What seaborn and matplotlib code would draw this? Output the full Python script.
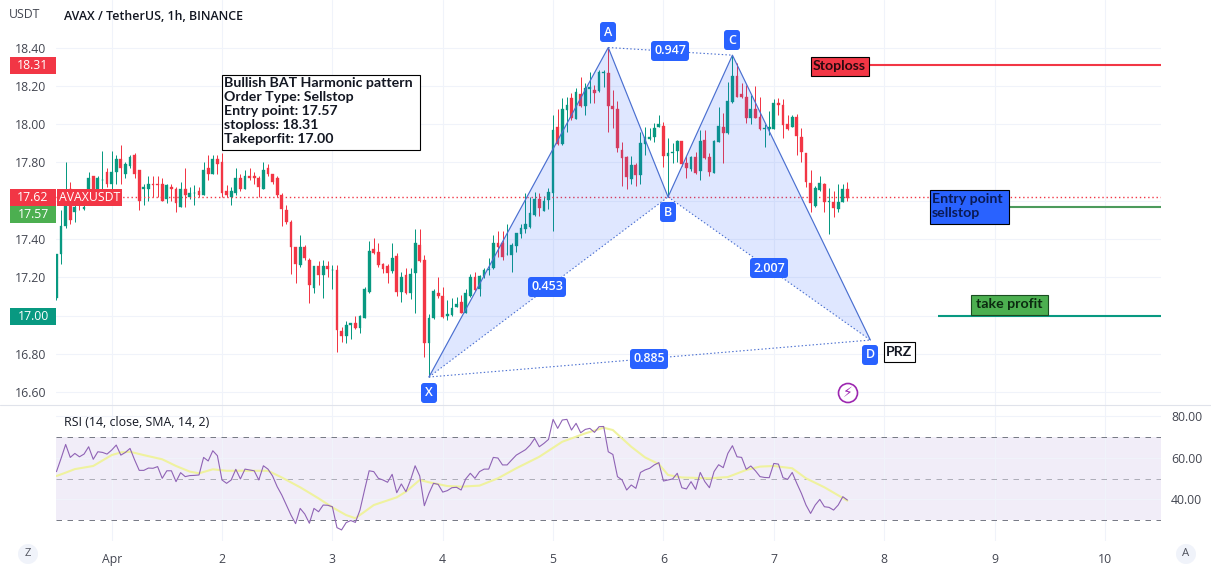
"""AVAX / TetherUS 1h chart with bullish BAT pattern and RSI pane."""

import matplotlib
matplotlib.use("Agg")
import matplotlib.pyplot as plt
import numpy as np
import pandas as pd
import seaborn as sns
from matplotlib.patches import Circle, FancyBboxPatch, Rectangle
from matplotlib.transforms import Affine2D

# ---------------------------
# Data
# ---------------------------

candle_open = [
    17.09, 17.32, 17.47, 17.66, 17.54, 17.60, 17.557, 17.65, 17.73, 17.66,
    17.71, 17.75, 17.69, 17.75, 17.82, 17.74, 17.78, 17.84, 17.76, 17.66,
    17.66, 17.69, 17.69, 17.69, 17.61, 17.67, 17.66, 17.57, 17.66, 17.62,
    17.64, 17.65, 17.63, 17.77, 17.74, 17.82, 17.80, 17.65, 17.62, 17.64,
    17.72, 17.66, 17.73, 17.73, 17.72, 17.66, 17.77, 17.74, 17.72, 17.63,
    17.55, 17.49, 17.36, 17.265, 17.357, 17.29, 17.147, 17.26, 17.213, 17.26,
    17.24, 17.239, 16.92, 16.896, 16.95, 16.964, 16.936, 16.987, 17.124, 17.348,
    17.331, 17.27, 17.262, 17.234, 17.312, 17.126, 17.213, 17.117, 17.225, 17.369,
    17.291, 16.86, 16.987, 17.121, 17.105, 17.0, 17.004, 17.048, 17.07, 17.016,
    17.103, 17.202, 17.138, 17.207, 17.239, 17.248, 17.378, 17.378, 17.32, 17.317,
    17.364, 17.427, 17.453, 17.462, 17.526, 17.61, 17.548, 17.604, 17.643, 17.983,
    17.896, 18.074, 18.135, 18.027, 18.157, 18.095, 18.185, 18.178, 18.173, 18.265,
    18.265, 18.097, 18.077, 17.865, 17.829, 17.712, 17.787, 17.735, 17.897, 17.921,
    17.931, 17.983, 17.99, 17.836, 17.848, 17.858, 17.912, 17.796, 17.766, 17.83,
    17.757, 17.917, 17.83, 17.747, 17.909, 17.983, 17.952, 18.116, 18.251, 18.157,
    18.14, 18.03, 18.079, 18.039, 17.975, 17.976, 17.975, 18.112, 18.1, 17.999,
    17.987, 18.036, 17.935, 17.848, 17.695, 17.573, 17.657, 17.688, 17.596, 17.596,
    17.557, 17.596, 17.662,
]
candle_high = [
    17.32, 17.55, 17.80, 17.70, 17.62, 17.62, 17.60, 17.75, 17.73, 17.73,
    17.86, 17.77, 17.86, 17.84, 17.89, 17.80, 17.84, 17.85, 17.76, 17.69,
    17.73, 17.73, 17.73, 17.72, 17.69, 17.69, 17.67, 17.70, 17.77, 17.67,
    17.68, 17.67, 17.80, 17.84, 17.84, 17.84, 17.85, 17.68, 17.67, 17.77,
    17.74, 17.76, 17.77, 17.75, 17.73, 17.80, 17.79, 17.74, 17.73, 17.64,
    17.58, 17.50, 17.36, 17.421, 17.37, 17.30, 17.26, 17.286, 17.29, 17.286,
    17.265, 17.265, 16.94, 16.97, 16.964, 17.0, 17.004, 17.152, 17.39, 17.404,
    17.378, 17.277, 17.27, 17.382, 17.33, 17.228, 17.248, 17.248, 17.451, 17.453,
    17.317, 17.009, 17.138, 17.2, 17.152, 17.082, 17.095, 17.1, 17.109, 17.138,
    17.218, 17.227, 17.213, 17.248, 17.3, 17.421, 17.442, 17.442, 17.479, 17.378,
    17.43, 17.479, 17.639, 17.622, 17.648, 17.639, 17.625, 17.668, 18.048, 18.077,
    18.135, 18.143, 18.161, 18.187, 18.248, 18.213, 18.274, 18.204, 18.283, 18.283,
    18.396, 18.178, 18.121, 17.909, 17.834, 17.834, 17.796, 17.961, 17.987, 17.978,
    18.004, 18.046, 18.013, 17.926, 17.9, 17.917, 17.914, 17.834, 17.834, 17.856,
    17.97, 17.97, 17.848, 17.917, 18.088, 18.057, 18.222, 18.361, 18.317, 18.213,
    18.204, 18.152, 18.2, 18.143, 18.0, 18.07, 18.131, 18.138, 18.131, 18.048,
    18.048, 18.053, 17.978, 17.851, 17.761, 17.679, 17.73, 17.691, 17.669, 17.651,
    17.686, 17.686, 17.696,
]
candle_low = [
    17.08, 17.27, 17.46, 17.48, 17.49, 17.55, 17.553, 17.64, 17.63, 17.63,
    17.65, 17.67, 17.65, 17.69, 17.69, 17.72, 17.77, 17.72, 17.55, 17.58,
    17.60, 17.62, 17.62, 17.60, 17.59, 17.60, 17.54, 17.57, 17.57, 17.61,
    17.58, 17.62, 17.63, 17.71, 17.74, 17.74, 17.62, 17.62, 17.58, 17.63,
    17.65, 17.66, 17.71, 17.69, 17.62, 17.66, 17.73, 17.69, 17.62, 17.47,
    17.48, 17.22, 17.17, 17.253, 17.29, 17.065, 17.117, 17.16, 17.095, 17.204,
    17.14, 16.813, 16.865, 16.856, 16.88, 16.93, 16.912, 16.987, 17.117, 17.322,
    17.253, 17.222, 17.173, 17.222, 17.105, 17.074, 17.114, 17.086, 17.013, 17.282,
    16.783, 16.682, 16.982, 17.091, 16.987, 16.978, 17.0, 17.044, 17.013, 17.013,
    17.1, 17.128, 17.105, 17.195, 17.213, 17.244, 17.308, 17.291, 17.317, 17.23,
    17.335, 17.404, 17.434, 17.46, 17.522, 17.522, 17.547, 17.555, 17.444, 17.891,
    17.891, 17.961, 18.022, 18.027, 18.091, 18.048, 18.109, 18.109, 18.17, 18.196,
    17.961, 17.978, 17.856, 17.677, 17.66, 17.688, 17.679, 17.688, 17.839, 17.917,
    17.909, 17.983, 17.778, 17.622, 17.796, 17.804, 17.783, 17.717, 17.757, 17.74,
    17.709, 17.818, 17.731, 17.743, 17.907, 17.799, 17.949, 18.112, 18.14, 18.135,
    18.004, 18.0, 18.03, 17.97, 17.883, 17.943, 17.973, 18.048, 17.93, 17.97,
    17.983, 17.839, 17.804, 17.674, 17.544, 17.57, 17.653, 17.544, 17.427, 17.517,
    17.543, 17.592, 17.599,
]
candle_close = [
    17.32, 17.47, 17.64, 17.50, 17.57, 17.58, 17.57, 17.72, 17.65, 17.72,
    17.71, 17.69, 17.75, 17.82, 17.77, 17.79, 17.83, 17.74, 17.60, 17.67,
    17.69, 17.68, 17.68, 17.60, 17.68, 17.66, 17.59, 17.66, 17.63, 17.64,
    17.64, 17.63, 17.76, 17.74, 17.82, 17.79, 17.64, 17.63, 17.65, 17.72,
    17.66, 17.73, 17.72, 17.72, 17.67, 17.76, 17.74, 17.70, 17.63, 17.555,
    17.49, 17.36, 17.27, 17.357, 17.30, 17.16, 17.26, 17.21, 17.26, 17.244,
    17.24, 16.926, 16.896, 16.952, 16.96, 16.936, 17.0, 17.141, 17.338, 17.326,
    17.265, 17.244, 17.225, 17.303, 17.126, 17.204, 17.117, 17.218, 17.378, 17.286,
    16.86, 16.987, 17.131, 17.105, 16.992, 17.01, 17.041, 17.06, 17.016, 17.117,
    17.202, 17.135, 17.209, 17.239, 17.244, 17.378, 17.361, 17.308, 17.32, 17.368,
    17.43, 17.456, 17.479, 17.535, 17.61, 17.561, 17.6, 17.648, 17.97, 17.896,
    18.079, 18.1, 18.03, 18.17, 18.095, 18.187, 18.196, 18.161, 18.27, 18.27,
    18.095, 18.077, 17.874, 17.822, 17.723, 17.787, 17.735, 17.903, 17.931, 17.935,
    17.982, 17.999, 17.834, 17.848, 17.856, 17.914, 17.792, 17.77, 17.827, 17.743,
    17.912, 17.822, 17.752, 17.912, 17.99, 17.952, 18.121, 18.251, 18.143, 18.14,
    18.03, 18.077, 18.034, 17.973, 17.978, 17.987, 18.109, 18.098, 17.996, 17.975,
    18.036, 17.938, 17.856, 17.697, 17.587, 17.669, 17.695, 17.596, 17.6, 17.564,
    17.596, 17.662, 17.613,
]

rsi_values = [
    53.3, 59.6, 66.3, 60.1, 62.0, 60.4, 61.7, 65.2, 59.2, 62.8,
    62.5, 61.7, 63.6, 66.0, 61.2, 62.5, 64.4, 58.9, 53.9, 53.9,
    55.0, 54.9, 55.7, 50.1, 53.7, 53.7, 48.5, 52.8, 50.9, 51.4,
    51.5, 51.7, 60.1, 58.4, 63.3, 60.9, 49.3, 47.7, 49.3, 54.4,
    49.8, 54.5, 54.1, 53.7, 49.3, 56.1, 54.5, 51.2, 46.1, 42.1,
    37.3, 32.5, 28.4, 35.7, 33.0, 28.6, 35.7, 34.1, 37.3, 37.2,
    36.5, 26.5, 25.4, 28.9, 29.9, 29.0, 34.9, 44.5, 53.7, 53.3,
    50.1, 49.3, 48.2, 52.0, 43.2, 47.4, 43.7, 49.3, 56.1, 51.2,
    37.0, 42.9, 47.7, 47.2, 43.5, 44.2, 45.6, 45.8, 44.5, 49.8,
    52.5, 50.1, 53.3, 54.5, 54.5, 60.1, 59.8, 56.5, 56.5, 58.9,
    61.2, 62.5, 63.8, 66.0, 69.2, 65.2, 66.8, 68.7, 78.3, 74.0,
    78.0, 78.3, 73.2, 76.4, 71.9, 73.5, 74.0, 72.1, 74.8, 74.9,
    62.8, 61.5, 50.9, 49.3, 44.5, 46.9, 45.3, 52.9, 54.1, 54.9,
    56.5, 57.6, 48.8, 49.3, 49.8, 52.5, 45.6, 45.0, 48.5, 44.8,
    52.9, 48.5, 45.6, 53.3, 56.6, 55.2, 62.0, 65.7, 60.4, 60.1,
    54.4, 56.0, 53.7, 50.9, 50.5, 50.4, 57.2, 56.9, 50.4, 49.6,
    52.9, 47.7, 42.9, 37.3, 33.3, 37.3, 40.0, 36.5, 36.2, 34.9,
    37.3, 41.3, 39.7,
]

# RSI moving average, read at the bends of the line (bar number, value)
sma_bars = [
    0, 2, 4, 8, 12, 14, 16, 19, 23, 26, 29, 31, 34, 37, 42, 46, 49, 53, 57, 60,
    63, 65, 67, 69, 74, 76, 79, 81, 85, 88, 92, 96, 100, 105, 110, 115, 119, 121,
    123, 125, 128, 131, 133, 136, 142, 146, 150, 153, 156, 160, 163, 167, 172,
]
sma_values = [
    51.2, 52.8, 54.5, 56.0, 61.2, 62.5, 62.8, 61.2, 59.2, 56.0, 53.3, 52.5, 54.4,
    53.7, 53.7, 53.7, 50.5, 45.8, 40.5, 36.2, 32.5, 31.0, 34.1, 37.3, 41.0, 43.7,
    49.3, 48.2, 46.4, 46.1, 46.6, 50.1, 54.9, 60.4, 67.6, 71.6, 74.3, 73.2, 69.2,
    65.2, 60.1, 56.9, 51.7, 50.5, 50.1, 50.7, 54.1, 55.7, 56.0, 54.9, 50.1, 45.8,
    39.4,
]

# Harmonic pattern pivots: X, A, B, C, D (hours from 1 Apr 00:00, price)
pivot_hours = [69, 108, 121, 135, 165]
pivot_prices = [16.68, 18.40, 17.62, 18.36, 16.873]

last_price = 17.62
stop_price = 18.31
entry_price = 17.57
profit_price = 17.00

price_ticks = [16.6, 16.8, 17.0, 17.2, 17.4, 17.6, 17.8, 18.0, 18.2, 18.4]
hidden_price_ticks = [17.0, 17.6]
rsi_ticks = [40, 60, 80]
day_hours = [0, 24, 48, 72, 96, 120, 144, 168, 192, 216]
day_labels = ["Apr", "2", "3", "4", "5", "6", "7", "8", "9", "10"]

# ---------------------------
# Style
# ---------------------------

W, H = 1211, 570
UP = "#089981"
DOWN = "#f23645"
BLUE = "#2962ff"
GRID = "#f0f3fa"
INK = "#131722"
TV_FONT = "Lato"

sns.set_theme(style="white")
plt.rcParams["font.family"] = ["Open Sans", "DejaVu Sans"]

fig = plt.figure(figsize=(W / 100, H / 100), dpi=100, facecolor="white")
px = Affine2D().scale(1, -1).translate(0, H)


def pane(top, bottom):
    return fig.add_axes([56 / W, 1 - bottom / H, 1105 / W, (bottom - top) / H])


ax = pane(0, 405)
ax_rsi = pane(406, 541)

bars = pd.DataFrame({
    "open": candle_open,
    "high": candle_high,
    "low": candle_low,
    "close": candle_close,
    "rsi": rsi_values,
})
bars["hour"] = bars.index - 12
bars["color"] = np.where(bars["close"] >= bars["open"], UP, DOWN)

x_limits = (-12.1, 228.2)

# ---------------------------
# Price pane
# ---------------------------

ax.set_xlim(*x_limits)
ax.set_ylim(16.534, 18.648)

ax.vlines(bars["hour"], bars["low"], bars["high"], colors=bars["color"],
          linewidth=0.72, zorder=2)
ax.bar(bars["hour"], (bars["close"] - bars["open"]).abs(),
       bottom=bars[["open", "close"]].min(axis=1), width=0.6,
       color=bars["color"], edgecolor=bars["color"], linewidth=0.25, zorder=3)

ax.axhline(last_price, color=DOWN, linewidth=1.0, linestyle=(0, (1, 2)), zorder=2)

# pattern
xh, ah, bh, ch, dh = pivot_hours
xp, ap, bp, cp, dp = pivot_prices
ax.fill([xh, ah, bh], [xp, ap, bp], color=BLUE, alpha=0.15, linewidth=0, zorder=4)
ax.fill([bh, ch, dh], [bp, cp, dp], color=BLUE, alpha=0.15, linewidth=0, zorder=4)
ax.plot(pivot_hours, pivot_prices, color="#4a6fd0", linewidth=0.85, zorder=5)
for i, j in [(0, 2), (2, 4), (1, 3), (0, 4)]:
    ax.plot([pivot_hours[i], pivot_hours[j]], [pivot_prices[i], pivot_prices[j]],
            color="#4a6fd0", linewidth=0.8, linestyle=(0, (1.3, 2)), zorder=5)

# trade levels
ax.hlines(stop_price, 164.2, x_limits[1], color=DOWN, linewidth=1.5, zorder=4)
ax.hlines(entry_price, 194.9, x_limits[1], color="#4c9a5c", linewidth=1.5, zorder=4)
ax.hlines(profit_price, 179.7, x_limits[1], color=UP, linewidth=1.5, zorder=4)

ax.set_yticks(price_ticks)
ax.set_yticklabels(["" if t in hidden_price_ticks else f"{t:.2f}" for t in price_ticks])
ax.set_xticks(day_hours)
ax.tick_params(axis="x", length=0, labelbottom=False)
ax.tick_params(axis="y", length=0, pad=7.2, labelsize=8.8, labelcolor="#434651")
ax.grid(True, color=GRID, linewidth=0.8)
ax.set_axisbelow(True)

# ---------------------------
# RSI pane
# ---------------------------

ax_rsi.set_xlim(*x_limits)
ax_rsi.set_ylim(20.1, 84.7)
ax_rsi.axhspan(30, 70, color="#7e57c2", alpha=0.1, linewidth=0, zorder=0)
for level, shade in [(30, 1.0), (50, 0.55), (70, 1.0)]:
    ax_rsi.axhline(level, color="#787b86", linewidth=0.72, alpha=shade,
                   linestyle=(0, (5.5, 5.5)), zorder=1)

sns.lineplot(x=[h - 12 for h in sma_bars], y=sma_values, ax=ax_rsi,
             color="#eff29e", linewidth=1.5, errorbar=None, zorder=2)
sns.lineplot(data=bars, x="hour", y="rsi", ax=ax_rsi,
             color="#8f63b5", linewidth=0.8, errorbar=None, zorder=3)

ax_rsi.yaxis.tick_right()
ax_rsi.set_yticks(rsi_ticks)
ax_rsi.set_yticklabels([f"{t:.2f}" for t in rsi_ticks])
ax_rsi.set_xticks(day_hours)
ax_rsi.set_xticklabels(day_labels)
ax_rsi.set_xlabel("")
ax_rsi.set_ylabel("")
ax_rsi.tick_params(axis="x", length=0, pad=8.5, labelsize=8.8, labelcolor="#434651")
ax_rsi.tick_params(axis="y", length=0, pad=7.2, labelsize=8.8, labelcolor="#434651")
ax_rsi.grid(True, color=GRID, linewidth=0.8)
ax_rsi.set_axisbelow(True)

for a in (ax, ax_rsi):
    for spine in a.spines.values():
        spine.set_visible(False)

# ---------------------------
# Overlay labels (pixel layout)
# ---------------------------


def put_text(x, y, text, size=8.8, color=INK, family="Open Sans", weight="normal",
             ha="left", va="center", **kwargs):
    return fig.text(x, y, text, transform=px, fontsize=size, color=color, family=family,
                    weight=weight, ha=ha, va=va, zorder=12, **kwargs)


def box(x0, y0, x1, y1, face, edge="none", lw=0.0):
    fig.add_artist(Rectangle((x0, y0), x1 - x0, y1 - y0, transform=px, facecolor=face,
                             edgecolor=edge, linewidth=lw, zorder=10))


def tag(x0, y0, x1, y1, text, face):
    box(x0, y0, x1, y1, face)
    put_text((x0 + x1) / 2, (y0 + y1) / 2, text, color="white", weight="medium", ha="center")


def badge(cx, cy, text, half_w, half_h=10):
    fig.add_artist(FancyBboxPatch((cx - half_w, cy - half_h), 2 * half_w, 2 * half_h,
                                  boxstyle="round,pad=0,rounding_size=3", transform=px,
                                  facecolor=BLUE, edgecolor="none", zorder=10))
    put_text(cx, cy, text, size=9, color="white", weight="semibold", ha="center")


# separators
fig.add_artist(plt.Line2D([0, W], [405, 405], transform=px, color="#e0e3eb", linewidth=0.8))

# header
put_text(25, 14, "USDT", color="#434651", ha="center")
put_text(64, 17, "AVAX / TetherUS, 1h, BINANCE", size=8.9, weight="semibold")
put_text(64, 423, "RSI (14, close, SMA, 14, 2)", size=8.9)

# price scale tags
tag(10, 57, 56, 74, "18.31", DOWN)
tag(10, 189, 56, 205.5, "17.62", DOWN)
tag(57, 189, 122, 205.5, "AVAXUSDT", DOWN)
tag(10, 206, 56, 222.5, "17.57", "#4caf50")
tag(10, 308, 56, 325, "17.00", UP)

# pattern badges
badge(608, 32, "A", 8)
badge(668, 212, "B", 8)
badge(732, 40, "C", 8)
badge(870, 355, "D", 8)
badge(429, 393, "X", 8)
badge(547, 287, "0.453", 19)
badge(670, 51, "0.947", 19)
badge(769, 268, "2.007", 19)
badge(649, 359, "0.885", 19)

# trade text boxes
box(221.5, 74.5, 419.5, 149.5, "white", "black", 0.8)
info_lines = ["Bullish BAT Harmonic pattern", "Order Type: Sellstop", "Entry point: 17.57",
              "stoploss: 18.31", "Takeporfit: 17.00"]
for n, line in enumerate(info_lines):
    put_text(224.5, 83 + 14 * n, line, size=10.2, family=TV_FONT, weight="bold")

box(810.5, 56.5, 868.5, 75.5, DOWN, "black", 0.8)
put_text(839.5, 65.5, "Stoploss", size=10.2, family=TV_FONT, color="#2a0a10", ha="center", weight="bold")

box(929.5, 189.5, 1008.5, 223.5, BLUE, "black", 0.8)
put_text(932, 199, "Entry point", size=10.2, family=TV_FONT, color="#0a1a55", weight="bold")
put_text(932, 213, "sellstop", size=10.2, family=TV_FONT, color="#0a1a55", weight="bold")

box(970.5, 294.5, 1047.5, 315, "#4caf50", "#1b4d22", 0.8)
put_text(1009, 304.5, "take profit", size=10.2, family=TV_FONT, color="#0b2a10", ha="center", weight="bold")

box(883.5, 341.5, 914.5, 361.5, "white", "black", 0.8)
put_text(899, 351.5, "PRZ", size=10.2, family=TV_FONT, ha="center", weight="bold")

# logo + corner buttons
fig.add_artist(Circle((848, 393), 9.5, transform=px, facecolor="white", edgecolor="#9c27b0",
                      linewidth=1.2, zorder=10))
put_text(848, 393, "\u26a1", size=10, color="#9c27b0", family="DejaVu Sans", ha="center")
for cx, letter in [(28, "Z"), (1186, "A")]:
    fig.add_artist(Circle((cx, 554), 10, transform=px, facecolor="#f0f3fa", edgecolor="none", zorder=10))
    put_text(cx, 554, letter, size=8.2, color="#50535e", ha="center")

plt.savefig("out.png", dpi=100)
